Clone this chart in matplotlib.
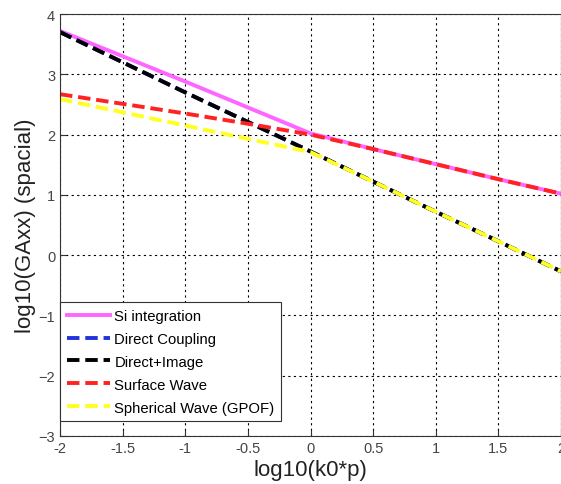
import matplotlib
matplotlib.use('Agg')
import matplotlib.pyplot as plt

plt.rcParams['font.family'] = ['Liberation Sans', 'DejaVu Sans']

# values (log10 scale)
x = [-2, -1.5, -1, -0.5, 0, 0.5, 1, 1.5, 2]
si_integration = [3.72, 3.30, 2.88, 2.45, 2.02, 1.76, 1.51, 1.26, 1.02]
direct_coupling = [3.70, 3.20, 2.70, 2.21, 1.72, 1.22, 0.72, 0.23, -0.27]
direct_image = [3.70, 3.20, 2.70, 2.21, 1.72, 1.22, 0.72, 0.23, -0.27]
surface_wave = [2.67, 2.51, 2.35, 2.18, 2.00, 1.76, 1.51, 1.26, 1.02]
spherical_wave = [2.59, 2.37, 2.15, 1.93, 1.71, 1.22, 0.72, 0.23, -0.27]

x_ticks = [-2, -1.5, -1, -0.5, 0, 0.5, 1, 1.5, 2]
y_ticks = [-3, -2, -1, 0, 1, 2, 3, 4]

fig = plt.figure(figsize=(5.61, 4.85), dpi=100)
ax = fig.add_axes([0.107, 0.099, 0.893, 0.870])

dash = (0, (3.2, 1.5))
ax.plot(x, si_integration, color='#ff66ff', lw=2.8, label='Si integration')
ax.plot(x, direct_coupling, color='#2233dd', lw=2.8, ls=dash, label='Direct Coupling')
ax.plot(x, direct_image, color='black', lw=2.8, ls=dash, label='Direct+Image')
ax.plot(x, surface_wave, color='#ff2222', lw=2.8, ls=dash, label='Surface Wave')
ax.plot(x, spherical_wave, color='#ffff22', lw=2.8, ls=dash, label='Spherical Wave (GPOF)')

ax.set_xlim(-2, 2)
ax.set_ylim(-3, 4)
ax.set_xticks(x_ticks)
ax.set_xticklabels(['-2', '-1.5', '-1', '-0.5', '0', '0.5', '1', '1.5', '2'])
ax.set_yticks(y_ticks)
ax.tick_params(direction='in', labelsize=10.5, length=4, colors='#333333', labelcolor='#444444')
ax.grid(True, color='black', linestyle=(0, (2, 3)), linewidth=0.8)
for s in ax.spines.values():
    s.set_color('#333333')

ax.set_xlabel('log10(k0*p)', fontsize=16, color='#222222', labelpad=3)
ax.set_ylabel('log10(GAxx) (spacial)', fontsize=16, color='#222222', labelpad=2)

leg = ax.legend(loc='lower left', bbox_to_anchor=(0.0, 0.035), fontsize=10.7, fancybox=False,
                edgecolor='#333333', framealpha=1, borderaxespad=0.0, handlelength=2.9,
                handletextpad=0.3, labelspacing=0.6, borderpad=0.45)
leg.get_frame().set_linewidth(0.8)

fig.savefig('out.png', dpi=100)
